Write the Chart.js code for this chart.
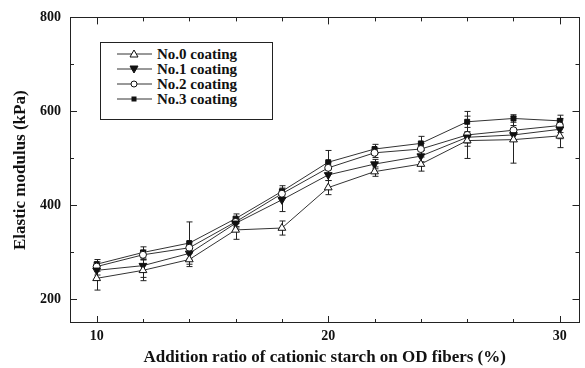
<!DOCTYPE html>
<html>
<head>
<meta charset="utf-8">
<script src="https://cdn.jsdelivr.net/npm/chart.js@4"></script>
<style>
  body { margin: 0; background: #fff; }
  #wrap { position: relative; width: 585px; height: 368px; }
  #legend {
    position: absolute; left: 100px; top: 42px; width: 173px; height: 78px;
    border: 1px solid #222; background: #fff; box-sizing: border-box;
    font: bold 15px "Liberation Serif", serif; color: #111;
    padding: 4px 0 0 16px;
  }
  #legend div { height: 15px; line-height: 15px; white-space: nowrap; }
  #legend svg { vertical-align: -1px; margin-right: 5px; }
</style>
</head>
<body>
<div id="wrap">
  <canvas id="myChart" width="585" height="368"></canvas>
  <div id="legend"></div>
</div>
<script>
// datos
var ratio = [10, 12, 14, 16, 18, 20, 22, 24, 26, 28, 30];
var names = ['No.0 coating', 'No.1 coating', 'No.2 coating', 'No.3 coating'];
var coat0 = [245, 262, 285, 348, 352, 438, 472, 488, 538, 540, 548];
var coat1 = [262, 272, 298, 362, 412, 465, 488, 505, 545, 550, 562];
var coat2 = [270, 295, 310, 365, 425, 480, 512, 520, 550, 560, 570];
var coat3 = [275, 300, 320, 372, 430, 492, 520, 532, 578, 585, 580];
var err0 = [25, 22, 15, 20, 15, 15, 10, 15, 12, 50, 25];
var err1 = [10, 25, 12, 10, 25, 12, 10, 12, 12, 12, 20];
var err2 = [10, 10, 12, 10, 10, 12, 10, 12, 50, 10, 15];
var err3 = [10, 12, 45, 10, 12, 25, 10, 15, 12, 8, 12];
var xTicks = [10, 20, 30];
var yTicks = [200, 400, 600, 800];

function pts(arr) {
  return arr.map(function (v, i) { return { x: ratio[i], y: v }; });
}

var serif = '"Liberation Serif", "Times New Roman", serif';

var styles = [
  { pointStyle: 'triangle', rotation: 0, bg: '#fff', r: 4.5 },
  { pointStyle: 'triangle', rotation: 180, bg: '#111', r: 4.5 },
  { pointStyle: 'circle', rotation: 0, bg: '#fff', r: 3.5 },
  { pointStyle: 'rect', rotation: 0, bg: '#111', r: 3.5 }
];
var series = [coat0, coat1, coat2, coat3];
var errs = [err0, err1, err2, err3];

var datasets = series.map(function (s, i) {
  return {
    label: names[i],
    data: pts(s),
    errors: errs[i],
    borderColor: '#333',
    borderWidth: 1,
    pointStyle: styles[i].pointStyle,
    rotation: styles[i].rotation,
    pointRadius: styles[i].r,
    pointBackgroundColor: styles[i].bg,
    pointBorderColor: '#111',
    pointBorderWidth: 1,
    tension: 0
  };
});

// barras de error
var errorBars = {
  id: 'errorBars',
  beforeDatasetsDraw: function (chart) {
    var c = chart.ctx, xs = chart.scales.x, ys = chart.scales.y;
    c.save();
    c.strokeStyle = '#222';
    c.lineWidth = 1;
    chart.data.datasets.forEach(function (ds) {
      ds.data.forEach(function (p, i) {
        var e = ds.errors[i];
        var px = Math.round(xs.getPixelForValue(p.x)) + 0.5;
        var top = ys.getPixelForValue(p.y + e), bot = ys.getPixelForValue(p.y - e);
        c.beginPath();
        c.moveTo(px, top); c.lineTo(px, bot);
        c.moveTo(px - 3, top); c.lineTo(px + 3, top);
        c.moveTo(px - 3, bot); c.lineTo(px + 3, bot);
        c.stroke();
      });
    });
    c.restore();
  }
};

// marco y marcas hacia dentro
var frame = {
  id: 'frame',
  afterDraw: function (chart) {
    var c = chart.ctx, a = chart.chartArea, xs = chart.scales.x, ys = chart.scales.y;
    c.save();
    c.strokeStyle = '#222';
    c.lineWidth = 1;
    c.strokeRect(Math.round(a.left) + 0.5, Math.round(a.top) + 0.5,
      Math.round(a.right - a.left) - 1, Math.round(a.bottom - a.top) - 1);
    c.beginPath();
    for (var v = 10; v <= 30; v += 2) {
      var px = Math.round(xs.getPixelForValue(v)) + 0.5;
      var len = v % 10 === 0 ? 7 : 4;
      c.moveTo(px, a.bottom); c.lineTo(px, a.bottom - len);
      c.moveTo(px, a.top); c.lineTo(px, a.top + len);
    }
    for (var w = 200; w <= 800; w += 100) {
      var py = Math.round(ys.getPixelForValue(w)) + 0.5;
      var l2 = w % 200 === 0 ? 7 : 4;
      c.moveTo(a.left, py); c.lineTo(a.left + l2, py);
      c.moveTo(a.right, py); c.lineTo(a.right - l2, py);
    }
    c.stroke();
    c.restore();
  }
};

var ctx = document.getElementById('myChart').getContext('2d');
var chart = new Chart(ctx, {
  type: 'line',
  data: { datasets: datasets },
  plugins: [errorBars, frame],
  options: {
    responsive: false,
    animation: false,
    layout: { padding: { top: 17, right: 2, left: 0, bottom: 0 } },
    plugins: { legend: { display: false }, tooltip: { enabled: false } },
    scales: {
      x: {
        type: 'linear',
        min: 8.85,
        max: 30.85,
        afterBuildTicks: function (s) { s.ticks = xTicks.map(function (v) { return { value: v }; }); },
        afterFit: function (s) { s.height = 45; },
        grid: { display: false, drawTicks: false },
        border: { display: false },
        ticks: { color: '#111', padding: 5, font: { family: serif, size: 14, weight: 'bold' } },
        title: {
          display: true,
          text: 'Addition ratio of cationic starch on OD fibers (%)',
          color: '#111',
          padding: { top: 7, bottom: 0 },
          font: { family: serif, size: 17, weight: 'bold' }
        }
      },
      y: {
        min: 150,
        max: 800,
        afterBuildTicks: function (s) { s.ticks = yTicks.map(function (v) { return { value: v }; }); },
        afterFit: function (s) { s.width = 70; },
        grid: { display: false, drawTicks: false },
        border: { display: false },
        ticks: { color: '#111', padding: 9, font: { family: serif, size: 14, weight: 'bold' } },
        title: {
          display: true,
          text: 'Elastic modulus (kPa)',
          color: '#111',
          padding: { top: 10, bottom: 0 },
          font: { family: serif, size: 17, weight: 'bold' }
        }
      }
    }
  }
});

// leyenda
var marks = [
  '<polygon points="17,2 21,9 13,9" fill="#fff" stroke="#111"/>',
  '<polygon points="13,3 21,3 17,10" fill="#111" stroke="#111"/>',
  '<circle cx="17" cy="6" r="3" fill="#fff" stroke="#111"/>',
  '<rect x="14.5" y="3.5" width="5" height="5" fill="#111"/>'
];
document.getElementById('legend').innerHTML = names.map(function (n, i) {
  return '<div><svg width="35" height="12"><line x1="0" y1="6" x2="35" y2="6" stroke="#333" stroke-width="1"/>' +
    marks[i] + '</svg>' + n + '</div>';
}).join('');
</script>
</body>
</html>
